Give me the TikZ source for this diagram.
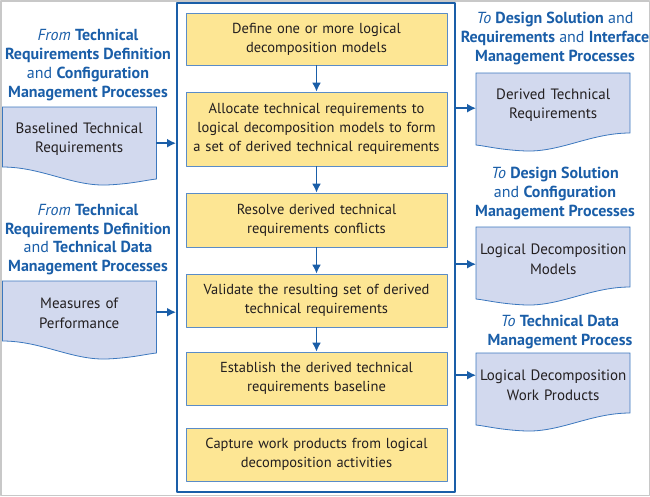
\documentclass[tikz,border=0pt]{standalone}
\usepackage{fontspec}
\setmainfont{PT Sans}
\usetikzlibrary{arrows.meta,backgrounds}
\definecolor{ldblue}{RGB}{26,94,168}
\definecolor{boxfill}{RGB}{253,230,148}
\definecolor{boxline}{RGB}{90,140,200}
\definecolor{docfill}{RGB}{210,217,238}
\definecolor{docedge}{RGB}{60,120,190}
\definecolor{txtdark}{RGB}{35,31,32}
\definecolor{rimgray}{RGB}{200,200,200}
\begin{document}
\begin{tikzpicture}[x=1pt, y=-1pt, font=\fontsize{14.5}{19}\selectfont, line join=round, >={Latex[length=9pt,width=9pt]}]
	\tikzset{
		stepbox/.style={draw=boxline, line width=0.8pt, fill=boxfill, minimum width=261pt, text width=258pt, align=center, text=txtdark, inner sep=0pt},
		docbox/.style={anchor=north west, minimum width=154pt, minimum height=64pt, text width=152pt, align=center, inner sep=0pt, text=txtdark, font=\fontsize{15}{19.5}\selectfont},
		docline/.style={draw=docedge, line width=0.8pt, fill=docfill},
		head/.style={align=center, text=ldblue, font=\fontsize{16}{18.7}\selectfont},
		flow/.style={->, draw=ldblue, line width=1.6pt}
	}
	\useasboundingbox (0,0) rectangle (650,496);
	\draw[rimgray, line width=1.5pt] (0.75,0.75) rectangle (649.25,495.25);
	% main frame and steps
	\node[draw=ldblue, line width=2pt, minimum width=278pt, minimum height=489pt, inner sep=0pt] (frame) at (316,247.5) {};
	\node[stepbox, minimum height=52pt] (define) at (316.5,39) {Define one or more logical\\decomposition models};
	\node[stepbox, minimum height=74pt] (alloc) at (316.5,129) {Allocate technical requirements to\\logical decomposition models to form\\a set of derived technical requirements};
	\node[stepbox, minimum height=54pt] (resolve) at (316.5,220) {Resolve derived technical\\requirements conflicts};
	\node[stepbox, minimum height=53pt] (validate) at (316.5,300.5) {Validate the resulting set of derived\\technical requirements};
	\node[stepbox, minimum height=53pt] (baseline) at (316.5,378.5) {Establish the derived technical\\requirements baseline};
	\node[stepbox, minimum height=53pt] (capture) at (316.5,454.5) {Capture work products from logical\\decomposition activities};
	\foreach \a/\b in {define/alloc, alloc/resolve, resolve/validate, validate/baseline}
		\draw[flow] (\a.south) -- (\b.north);
	% inputs
	\node[head] (fromtrd) at (88,65) {\textit{From} \textbf{Technical}\\\textbf{Requirements Definition}\\and \textbf{Configuration}\\\textbf{Management Processes}};
	\node[docbox] (blreq) at (2,107) {Baselined Technical\\Requirements};
	\node[head] (fromtdm) at (88,239.5) {\textit{From} \textbf{Technical}\\\textbf{Requirements Definition}\\and \textbf{Technical Data}\\\textbf{Management Processes}};
	\node[docbox] (mop) at (2,281) {Measures of\\Performance};
	% outputs
	\node[head] (todsr) at (555,38.5) {\textit{To} \textbf{Design Solution} and\\\textbf{Requirements} and \textbf{Interface}\\\textbf{Management Processes}};
	\node[docbox] (dtr) at (476,73) {Derived Technical\\Requirements};
	\node[head] (todsc) at (555,193.5) {\textit{To} \textbf{Design Solution}\\and \textbf{Configuration}\\\textbf{Management Processes}};
	\node[docbox] (ldm) at (476,227) {Logical Decomposition\\Models};
	\node[head] (totdm) at (560,332) {\textit{To} \textbf{Technical Data}\\\textbf{Management Process}};
	\node[docbox] (ldwp) at (476,353) {Logical Decomposition\\Work Products};
	\begin{scope}[on background layer]
		\foreach \d in {dtr,ldm,ldwp}
			\draw[docline, shift={(\d.north west)}] (0,0) -- (154,0) -- (154,60) .. controls (115,60) and (85,79) .. (50,78) .. controls (25,77) and (10,73) .. (0,72) -- cycle;
		\foreach \d in {blreq,mop}
			\draw[docline, shift={(\d.north east)}, xscale=-1] (0,0) -- (154,0) -- (154,60) .. controls (115,60) and (85,79) .. (50,78) .. controls (25,77) and (10,73) .. (0,72) -- cycle;
	\end{scope}
	% connectors to and from the frame
	\coordinate (blreq out) at ([yshift=-4pt]blreq.east);
	\coordinate (mop out) at ([yshift=1pt]mop.east);
	\coordinate (dtr in) at ([yshift=-3pt]dtr.west);
	\coordinate (ldm in) at ([yshift=-5pt]ldm.west);
	\coordinate (ldwp in) at ([yshift=10pt]ldwp.west);
	\draw[flow] (blreq out) -- (blreq out -| frame.west);
	\draw[flow] (mop out) -- (mop out -| frame.west);
	\foreach \d in {dtr,ldm,ldwp}
		\draw[flow] (\d\space in -| frame.east) -- (\d\space in);
\end{tikzpicture}
\end{document}
